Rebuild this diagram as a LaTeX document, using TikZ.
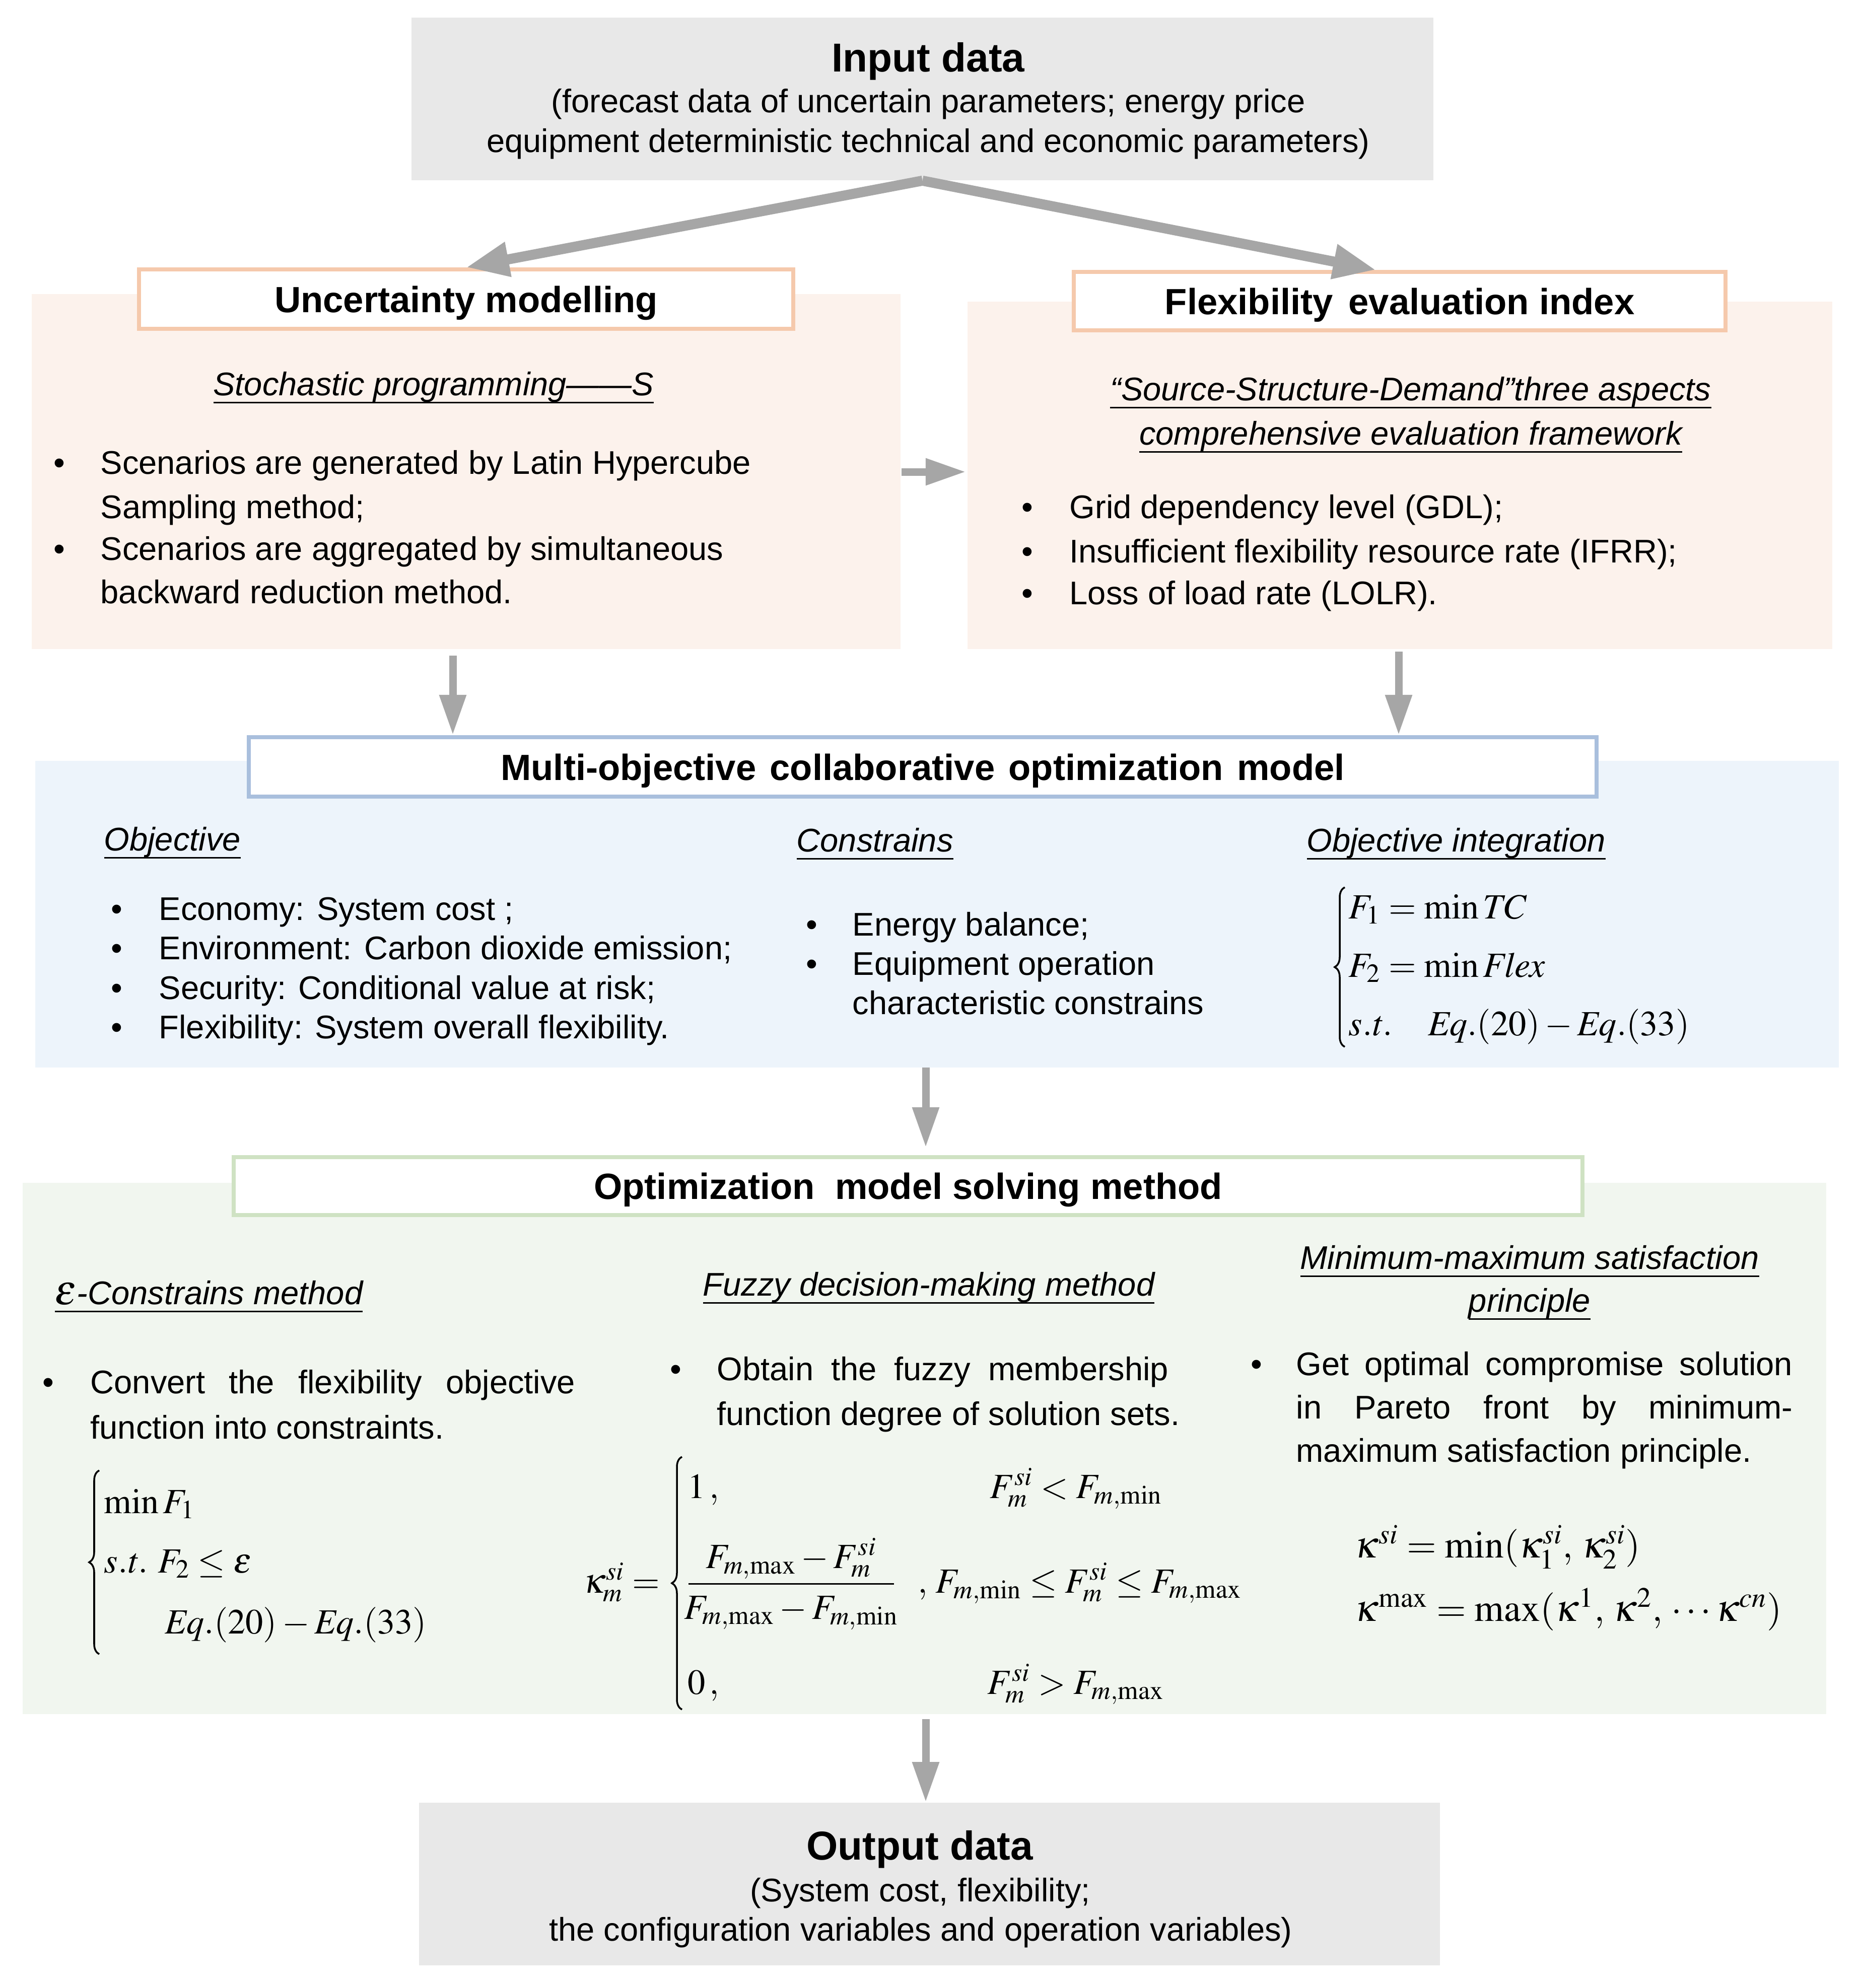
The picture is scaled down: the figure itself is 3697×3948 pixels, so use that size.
\documentclass[tikz,border=0pt]{standalone}
\usepackage{mathptmx}
\usepackage[no-math]{fontspec}
\setmainfont{Liberation Sans}
\usetikzlibrary{arrows.meta,calc,decorations.pathreplacing}
\definecolor{graybox}{HTML}{E8E8E8}
\definecolor{arrowgray}{HTML}{A6A6A6}
\definecolor{peach}{HTML}{FCF2EC}
\definecolor{peachline}{HTML}{F5C9AC}
\definecolor{bluebg}{HTML}{EDF4FB}
\definecolor{blueline}{HTML}{A9BFDD}
\definecolor{greenbg}{HTML}{F1F6EF}
\definecolor{greenline}{HTML}{CFE2C3}
\newcommand{\bodyf}{\fontsize{18.5}{22}\selectfont}
\newcommand{\titlef}{\fontsize{20.6}{24}\selectfont\bfseries}
\newcommand{\bigtf}{\fontsize{22.8}{26}\selectfont\bfseries}
\newcommand{\mathf}{\fontsize{20}{24}\selectfont}
\newcommand{\mathbigf}{\fontsize{21.5}{25}\selectfont}
\newcommand{\ulx}[1]{\leavevmode\setbox0\hbox{#1}\rlap{\rule[-4.5pt]{\wd0}{0.9pt}}\box0}
\tikzset{
 txt/.style={anchor=base west, inner sep=0pt, font=\bodyf},
 ctxt/.style={anchor=base, inner sep=0pt, font=\bodyf},
 bul/.style={anchor=base, inner sep=0pt, font=\bodyf},
 subh/.style={anchor=base, inner sep=0pt, font=\bodyf\itshape},
 subhl/.style={anchor=base west, inner sep=0pt, font=\bodyf\itshape},
 mth/.style={anchor=base west, inner sep=0pt, font=\mathf},
 mthb/.style={anchor=base west, inner sep=0pt, font=\mathbigf},
 bracepath/.style={decorate, decoration={brace, amplitude=0.2cm}, line width=1pt},
 tbox/.style={draw, line width=0.08cm, fill=white, inner sep=0pt, font=\titlef, text height=17pt, text depth=2pt},
 gbox/.style={fill=graybox, inner sep=0pt, minimum height=3.23cm},
 arr/.style={draw=arrowgray, line width=0.15cm, -{Triangle[length=0.8cm,width=0.5cm]}},
 arrbig/.style={draw=arrowgray, line width=0.2cm, -{Triangle[length=0.85cm,width=0.65cm]}},
}
\begin{document}
\begin{tikzpicture}[x=0.01cm,y=-0.01cm]
\useasboundingbox (0,0) rectangle (3697,3948);

% ---------- Input ----------
\node[gbox, minimum width=20.27cm] (inp) at (1831.5,196.5) {};
\node[anchor=base, inner sep=0pt, font=\bigtf] (inpT) at (1843,142) {Input data};
\node[ctxt] (inp1) at (1843,223) {(forecast data of uncertain parameters; energy price};
\node[ctxt] (inp2) at (1843,302) {equipment deterministic technical and economic parameters)};

% ---------- Upper panels ----------
\fill[peach] (63,584) rectangle (1788,1289);
\fill[peach] (1921,599) rectangle (3638,1289);
\node[tbox, draw=peachline, minimum width=12.99cm, minimum height=1.18cm] (unc) at (925.5,594) {Uncertainty modelling};
\node[tbox, draw=peachline, minimum width=12.94cm, minimum height=1.16cm] (flex) at (2779,598) {Flexibility\hspace{3pt} evaluation index};

\node[subh] (sp) at (861,785) {\ulx{Stochastic programming——S}};
\node[bul] (lb1) at (118,941) {\textbullet};
\node[txt] (lt1) at (199,941) {Scenarios are generated by Latin Hypercube};
\node[txt] (lt2) at (199,1029) {Sampling method;};
\node[bul] (lb2) at (118,1112) {\textbullet};
\node[txt] (lt3) at (199,1112) {Scenarios are aggregated by simultaneous};
\node[txt] (lt4) at (199,1198) {backward reduction method.};

\node[subh] (ssd1) at (2801,795) {\ulx{“Source-Structure-Demand”three aspects}};
\node[subh] (ssd2) at (2801,883) {\ulx{comprehensive evaluation framework}};
\node[bul] (rb1) at (2040,1029) {\textbullet};
\node[txt] (rt1) at (2123,1029) {Grid dependency level (GDL);};
\node[bul] (rb2) at (2040,1117) {\textbullet};
\node[txt] (rt2) at (2123,1117) {Insufficient flexibility resource rate (IFRR);};
\node[bul] (rb3) at (2040,1200) {\textbullet};
\node[txt] (rt3) at (2123,1200) {Loss of load rate (LOLR).};

% ---------- Blue panel ----------
\fill[bluebg] (70,1511) rectangle (3651,2120);
\node[tbox, draw=blueline, minimum width=26.74cm, minimum height=1.18cm] (mo) at (1832,1523) {Multi-objective\hspace{2pt} collaborative\hspace{2pt} optimization\hspace{2pt} model};

\node[subhl] (obj) at (206,1689) {\ulx{Objective}};
\node[subhl] (con) at (1581,1691) {\ulx{Constrains}};
\node[subhl] (oin) at (2594,1691) {\ulx{Objective integration}};

\node[bul] (ob1) at (232,1827) {\textbullet};
\node[txt] (ot1) at (315,1827) {Economy: System cost ;};
\node[bul] (ob2) at (232,1905) {\textbullet};
\node[txt] (ot2) at (315,1905) {Environment: Carbon dioxide emission;};
\node[bul] (ob3) at (232,1984) {\textbullet};
\node[txt] (ot3) at (315,1984) {Security: Conditional value at risk;};
\node[bul] (ob4) at (232,2062) {\textbullet};
\node[txt] (ot4) at (315,2062) {Flexibility: System overall flexibility.};

\node[bul] (cb1) at (1612,1858) {\textbullet};
\node[txt] (ct1) at (1692,1858) {Energy balance;};
\node[bul] (cb2) at (1612,1936) {\textbullet};
\node[txt] (ct2) at (1692,1936) {Equipment operation};
\node[txt] (ct3) at (1692,2014) {characteristic constrains};

\draw[bracepath] (2670,2079) -- (2670,1762);
\node[mth] (oi1) at (2677,1824) {$F_1=\min \mathit{TC}$};
\node[mth] (oi2) at (2677,1940) {$F_2=\min \mathit{Flex}$};
\node[mth] (oi3) at (2677,2056) {$\mathit{s.t.}\quad \mathit{Eq}.(20)-\mathit{Eq}.(33)$};

% ---------- Green panel ----------
\fill[greenbg] (45,2349) rectangle (3626,3404);
\node[tbox, draw=greenline, minimum width=26.76cm, minimum height=1.15cm] (opt) at (1803,2355.5) {Optimization\ \ model solving method};

\node[subhl] (ec) at (108,2590) {\ulx{{\fontsize{24}{24}\selectfont$\varepsilon$}-Constrains method}};
\node[subh] (fz) at (1844,2573) {\ulx{Fuzzy decision-making method}};
\node[subh] (mm1) at (3037,2520) {\ulx{Minimum-maximum satisfaction}};
\node[subh] (mm2) at (3037,2605) {\ulx{principle}};

\node[bul] (gb1) at (96,2767) {\textbullet};
\node[txt] (gt1) at (179,2767) {\makebox[9.62cm][s]{Convert the flexibility objective}};
\node[txt] (gt2) at (179,2857) {function into constraints.};
\draw[bracepath] (197,3285) -- (197,2920);
\node[mth] (ge1) at (206,3005) {$\min F_1$};
\node[mth] (ge2) at (206,3123) {$\mathit{s.t.}\ F_2\le\varepsilon$};
\node[mth] (ge3) at (327,3244) {$\mathit{Eq}.(20)-\mathit{Eq}.(33)$};

\node[bul] (gb2) at (1342,2741) {\textbullet};
\node[txt] (gt3) at (1423,2741) {\makebox[8.96cm][s]{Obtain the fuzzy membership}};
\node[txt] (gt4) at (1423,2830) {function degree of solution sets.};
\node[mth] (kap) at (1158,3163) {$\kappa_m^{si}=$};
\draw[bracepath] (1354,3395) -- (1354,2893);
\node[mth] (k1) at (1365,2975) {$1\,,$};
\node[mth] (k2) at (1362,3163) {$\displaystyle\frac{\makebox[116pt]{$F_{m,\max}-F_m^{si}$}\rule[-6pt]{0pt}{6pt}}{\rule{0pt}{17pt}\makebox[116pt]{$F_{m,\max}-F_{m,\min}$}}$};
\node[mth] (k3) at (1822,3163) {$,\,F_{m,\min}\le F_m^{si}\le F_{m,\max}$};
\node[mth] (k4) at (1365,3364) {$0\,,$};
\node[mth] (k5) at (1965,2975) {$F_m^{si}<F_{m,\min}$};
\node[mth] (k6) at (1960,3364) {$F_m^{si}>F_{m,\max}$};

\node[bul] (gb3) at (2495,2731) {\textbullet};
\node[txt] (gt5) at (2573,2731) {\makebox[9.85cm][s]{Get optimal compromise solution}};
\node[txt] (gt6) at (2573,2817) {\makebox[9.85cm][s]{in Pareto front by minimum-}};
\node[txt] (gt7) at (2573,2903) {maximum satisfaction principle.};
\node[mthb] (km1) at (2689,3093) {$\kappa^{si}=\min(\kappa_1^{si},\,\kappa_2^{si})$};
\node[mthb] (km2) at (2689,3219) {$\kappa^{\max}=\max(\kappa^1,\,\kappa^2,\,\cdots\kappa^{cn})$};

% ---------- Output ----------
\node[gbox, minimum width=20.25cm] (out) at (1845.5,3741.5) {};
\node[anchor=base, inner sep=0pt, font=\bigtf] (outT) at (1826,3693) {Output data};
\node[ctxt] (out1) at (1827,3776) {(System cost, flexibility;};
\node[ctxt] (out2) at (1828,3854) {the configuration variables and operation variables)};

% ---------- Arrows ----------
\draw[arrbig] (inp.south) -- (unc.north);
\draw[arrbig] (inp.south) -- ($(flex.north)+(-47,0)$);
\coordinate (mA) at (1790,937);
\coordinate (mB) at (1918,937);
\draw[arr] (mA) -- (mB);
\coordinate (dA) at (899,1302);
\draw[arr] (dA) -- (dA |- mo.north);
\coordinate (dB) at (2777,1294);
\draw[arr] (dB) -- (dB |- mo.north);
\coordinate (dC) at (1838,2120);
\draw[arr] (dC) -- ($(dC |- opt.north)+(0,-15)$);
\coordinate (dD) at (1838,3414);
\draw[arr] (dD) -- (dD |- out.north);
\end{tikzpicture}
\end{document}
